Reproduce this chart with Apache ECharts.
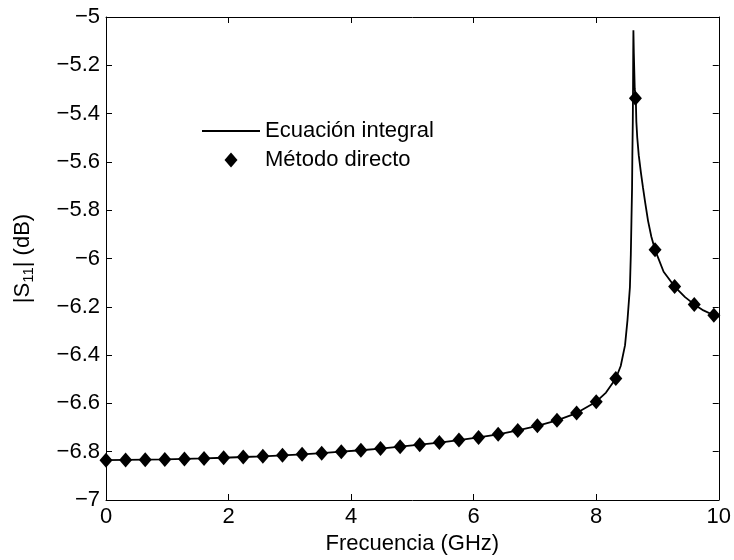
<!DOCTYPE html>
<html>
<head>
<meta charset="utf-8">
<script src="https://cdn.jsdelivr.net/npm/echarts@6/dist/echarts.min.js"></script>
<style>
html,body{margin:0;padding:0;background:#fff;}
#chart{width:734px;height:560px;}
</style>
</head>
<body>
<div id="chart"></div>
<script>
// ---- Data ----
// Método directo (markers)
var markerFreq = [0, 0.32, 0.64, 0.96, 1.28, 1.6, 1.92, 2.24, 2.56, 2.88, 3.2, 3.52, 3.84, 4.16, 4.48, 4.8,
  5.12, 5.44, 5.76, 6.08, 6.4, 6.72, 7.04, 7.36, 7.68, 8.0, 8.32, 8.64, 8.96, 9.28, 9.6, 9.92];
var markerS11 = [-6.835, -6.834, -6.833, -6.832, -6.830, -6.828, -6.825, -6.822, -6.819, -6.815, -6.811, -6.806,
  -6.800, -6.794, -6.787, -6.779, -6.771, -6.762, -6.752, -6.741, -6.728, -6.712, -6.693, -6.670, -6.640,
  -6.593, -6.497, -5.336, -5.964, -6.116, -6.190, -6.235];

// Ecuación integral (continuous curve)
var lineFreq = [0, 0.32, 0.64, 0.96, 1.28, 1.6, 1.92, 2.24, 2.56, 2.88, 3.2, 3.52, 3.84, 4.16, 4.48, 4.8,
  5.12, 5.44, 5.76, 6.08, 6.4, 6.72, 7.04, 7.36, 7.68, 8.0, 8.16, 8.32, 8.40, 8.47, 8.51, 8.55, 8.565, 8.575,
  8.585, 8.59, 8.597, 8.601, 8.604, 8.607, 8.614, 8.629, 8.646, 8.655, 8.67, 8.694, 8.73, 8.764, 8.80, 8.846,
  8.90, 8.96, 9.1, 9.28, 9.45, 9.6, 9.75, 9.92, 10];
var lineS11 = [-6.835, -6.834, -6.833, -6.832, -6.830, -6.828, -6.825, -6.822, -6.819, -6.815, -6.811, -6.806,
  -6.800, -6.794, -6.787, -6.779, -6.771, -6.762, -6.752, -6.741, -6.728, -6.712, -6.693, -6.670, -6.640,
  -6.593, -6.555, -6.497, -6.445, -6.360, -6.256, -6.119, -5.982, -5.844,
  -5.708, -5.572, -5.434, -5.298, -5.15, -5.055, -5.15, -5.298, -5.336, -5.434, -5.50, -5.572, -5.645,
  -5.708, -5.770, -5.844, -5.910, -5.964, -6.055,
  -6.116, -6.160, -6.190, -6.215, -6.235, -6.242];

var xTickLabels = ['0', '2', '4', '6', '8', '10'];
var yTickLabels = ['\u22127', '\u22126.8', '\u22126.6', '\u22126.4', '\u22126.2', '\u22126', '\u22125.8',
  '\u22125.6', '\u22125.4', '\u22125.2', '\u22125'];

var seriesNames = ['Ecuación integral', 'Método directo'];

function zip(a, b) { var r = []; for (var i = 0; i < a.length; i++) r.push([a[i], b[i]]); return r; }

var FONT = 'Liberation Sans';
var FS = 22;

var chart = echarts.init(document.getElementById('chart'), null, {renderer: 'canvas'});

var axisLineStyle = {color: '#000', width: 1};

var option = {
  backgroundColor: '#fff',
  animation: false,
  grid: {left: 106, right: 13, top: 17, bottom: 56, containLabel: false},
  legend: {
    orient: 'vertical',
    left: 197,
    top: 115,
    itemWidth: 58,
    itemHeight: 15,
    itemGap: 7,
    itemTextGap: 4,
    symbolKeepAspect: true,
    textStyle: {fontFamily: FONT, fontSize: FS, color: '#000', lineHeight: 22},
    data: [
      {name: seriesNames[0], icon: 'path://M0,0 L58,0 L58,1.8 L0,1.8 Z'},
      {name: seriesNames[1], icon: 'path://M6.5,0 L13,7.5 L6.5,15 L0,7.5 Z'}
    ]
  },
  xAxis: [{
    type: 'value', min: 0, max: 10, interval: 2,
    position: 'bottom',
    name: 'Frecuencia (GHz)', nameLocation: 'middle', nameGap: 33,
    nameTextStyle: {fontFamily: FONT, fontSize: FS, color: '#000'},
    axisLine: {show: true, onZero: false, lineStyle: axisLineStyle},
    axisTick: {show: true, inside: true, length: 6, lineStyle: axisLineStyle},
    axisLabel: {fontFamily: FONT, fontSize: FS, color: '#000', margin: 6,
      formatter: function (v) { return xTickLabels[Math.round(v / 2)]; }},
    splitLine: {show: false}
  }, {
    type: 'value', min: 0, max: 10, interval: 2,
    position: 'top',
    axisLine: {show: true, onZero: false, lineStyle: axisLineStyle},
    axisTick: {show: true, inside: true, length: 6, lineStyle: axisLineStyle},
    axisLabel: {show: false},
    splitLine: {show: false}
  }],
  yAxis: [{
    type: 'value', min: -7, max: -5, interval: 0.2,
    position: 'left',
    name: '|S{sub|11}| (dB)', nameLocation: 'middle', nameGap: 70,
    nameTextStyle: {fontFamily: FONT, fontSize: FS, color: '#000',
      rich: {sub: {fontFamily: FONT, fontSize: 15, color: '#000', padding: [12, 0, 0, 0]}}},
    axisLine: {show: true, onZero: false, lineStyle: axisLineStyle},
    axisTick: {show: true, inside: true, length: 6, lineStyle: axisLineStyle},
    axisLabel: {fontFamily: FONT, fontSize: FS, color: '#000', margin: 6,
      formatter: function (v) { return yTickLabels[Math.round((v + 7) / 0.2)]; }},
    splitLine: {show: false}
  }, {
    type: 'value', min: -7, max: -5, interval: 0.2,
    position: 'right',
    axisLine: {show: true, onZero: false, lineStyle: axisLineStyle},
    axisTick: {show: true, inside: true, length: 6, lineStyle: axisLineStyle},
    axisLabel: {show: false},
    splitLine: {show: false}
  }],
  series: [{
    name: seriesNames[0],
    type: 'line',
    xAxisIndex: 0, yAxisIndex: 0,
    data: zip(lineFreq, lineS11),
    symbol: 'none',
    showSymbol: false,
    smooth: false,
    clip: true,
    lineStyle: {color: '#000', width: 1.8},
    itemStyle: {color: '#000'},
    z: 2
  }, {
    name: seriesNames[1],
    type: 'scatter',
    xAxisIndex: 0, yAxisIndex: 0,
    data: zip(markerFreq, markerS11),
    symbol: 'diamond',
    symbolSize: [13, 15],
    clip: false,
    itemStyle: {color: '#000', opacity: 1},
    z: 3
  }]
};
chart.setOption(option);
</script>
</body>
</html>
